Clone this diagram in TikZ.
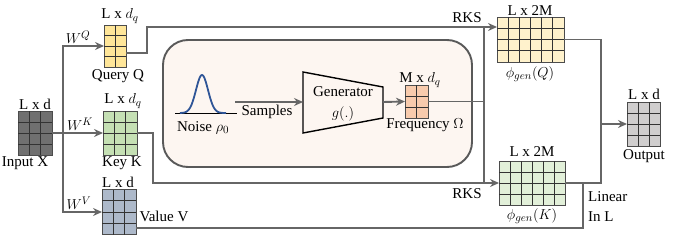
\documentclass[tikz,border=0pt]{standalone}
\usepackage{fontspec}
\setmainfont{Liberation Serif}
\newfontfamily\lserif{Liberation Serif}
\usetikzlibrary{calc,arrows.meta}
\definecolor{conncol}{HTML}{666666}
\definecolor{xfill}{HTML}{707070}
\definecolor{qfill}{HTML}{FFE699}
\definecolor{kfill}{HTML}{C5E0B4}
\definecolor{vfill}{HTML}{ADB9CA}
\definecolor{ffill}{HTML}{F8CBAD}
\definecolor{pqfill}{HTML}{FFF2CC}
\definecolor{pkfill}{HTML}{E2F0D9}
\definecolor{ofill}{HTML}{D0CECE}
\definecolor{boxfill}{HTML}{FDF6F1}
\definecolor{boxdraw}{HTML}{595959}
\definecolor{gausscol}{HTML}{2F5597}
\tikzset{
  conn/.style={draw=conncol,line width=1.9pt},
  arr/.style={-{Stealth[length=9pt,width=8pt,inset=3pt]}},
  matbox/.style={draw=#1,line width=0.8pt,inner sep=0pt,outer sep=0pt},
  matbox/.default={black!70},
  gridline/.style={draw=black!80,line width=0.8pt},
  lbl/.style={inner sep=0pt,font=\lserif\fontsize{15}{17}\selectfont},
}
\newcommand\gridnode[7]{%
  \node[matbox,fill=#7,minimum width=#3pt,minimum height=#4pt] (#1) at (#2) {};
  \pgfmathtruncatemacro\mync{#5-1}\pgfmathtruncatemacro\mynr{#6-1}
  \foreach \i in {1,...,\mync} \draw[gridline] ($(#1.south west)!\i/#5!(#1.south east)$) -- ($(#1.north west)!\i/#5!(#1.north east)$);
  \foreach \j in {1,...,\mynr} \draw[gridline] ($(#1.south west)!\j/#6!(#1.north west)$) -- ($(#1.south east)!\j/#6!(#1.north east)$);
}
\begin{document}
\begin{tikzpicture}[x=1pt,y=-1pt]
\useasboundingbox (0,0) rectangle (675,241);
% big box
\draw[draw=boxdraw,fill=boxfill,line width=1.9pt,rounded corners=25pt] (163,40) rectangle (472,167);
% matrices
\gridnode{X}{35,133}{34}{44}{3}{4}{xfill}
\gridnode{Q}{115,46}{22}{42}{2}{4}{qfill}
\gridnode{K}{120,133}{34}{44}{3}{4}{kfill}
\gridnode{V}{119,212}{34}{45}{3}{4}{vfill}
\gridnode{F}{416.5,101.5}{23}{33}{2}{3}{ffill}
\gridnode{PQ}{530.5,39.5}{67}{45}{6}{4}{pqfill}
\gridnode{PK}{532,183}{66}{44}{6}{4}{pkfill}
\gridnode{O}{643.5,124}{33}{44}{3}{4}{ofill}
% labels
\node[lbl] (lX) at (35,104) {L x d};
\node[lbl] (tX) at (25,163) {Input X};
\node[lbl] (lQ) at (120,16) {L x $d_q$};
\node[lbl] (tQ) at (118,76) {Query Q};
\node[lbl] (lK) at (123,101) {L x $d_q$};
\node[lbl] (tK) at (122,163) {Key K};
\node[lbl] (lV) at (118,182) {L x d};
\node[lbl] (tV) at (164,216) {Value V};
\node[lbl] (wQ) at (78,37) {$W^Q$};
\node[lbl] (wK) at (80,124) {$W^K$};
\node[lbl] (wV) at (79,203) {$W^V$};
\node[lbl] (lF) at (420,80) {M x $d_q$};
\node[lbl] (tF) at (425,125) {Frequency $\Omega$};
\node[lbl] (lPQ) at (530,11) {L x 2M};
\node[lbl] (tPQ) at (530,74) {$\phi_{gen}(Q)$};
\node[lbl] (lPK) at (532,152) {L x 2M};
\node[lbl] (tPK) at (532,216) {$\phi_{gen}(K)$};
\node[lbl] (lO) at (644,94) {L x d};
\node[lbl] (tO) at (644,156) {Output};
\node[lbl] (rks1) at (467,18) {RKS};
\node[lbl] (rks2) at (467,194) {RKS};
\node[lbl,anchor=west] (lin1) at (588,197) {Linear};
\node[lbl,anchor=west] (lin2) at (588,217) {In L};
% noise
\draw[black,line width=0.8pt] (175,113) -- (237,113);
\draw[gausscol,line width=1.8pt] plot[domain=180:226,samples=60,smooth] (\x,{113-38*exp(-((\x-202)/8.5)^2)});
\node[lbl] (noise) at (203,128) {Noise $\rho_0$};
\node[lbl] (samp) at (267,112) {Samples};
% generator
\draw[black,line width=1.4pt] (303,72) -- (383,87) -- (383,118) -- (303,133) -- cycle;
\node[lbl] (gen1) at (343,92) {Generator};
\node[lbl] (gen2) at (343,114) {$g(.)$};
\coordinate (sstart) at (235,102);
\coordinate (genin) at (303,102);
\coordinate (genout) at (383,102);
\draw[conn,arr] (sstart) -- (genin);
\draw[conn,arr] (genout) -- (F.west);
% input connectors
\coordinate (xs) at (63,133);
\draw[conn,arr] (X.east) -- (K.west);
\draw[conn,arr] (xs) |- (Q.west);
\draw[conn,arr] (xs) |- (V.west);
% Q, K to RKS
\coordinate (qturn) at (147,27);
\coordinate (kturn) at (153,183);
\coordinate (rtop) at (484,27);
\coordinate (rbot) at (484,183);
\draw[conn,arr] ([yshift=-7pt]Q.east) -| (qturn) -- (qturn -| PQ.west);
\draw[conn,arr] (K.east) -| (kturn) -- (PK.west);
\draw[conn] (rtop) -- (rbot);
\draw[conn] (F.east) -- (F.east -| rtop);
% to output
\coordinate (oj) at (601,39.5);
\draw[conn] (PQ.east) -- (oj) |- (PK.east);
\draw[conn,arr] (O.west -| oj) -- (O.west);
\coordinate (vturn) at (583,183);
\draw[conn] ([yshift=-16pt]V.east) -| (vturn);
\end{tikzpicture}
\end{document}
